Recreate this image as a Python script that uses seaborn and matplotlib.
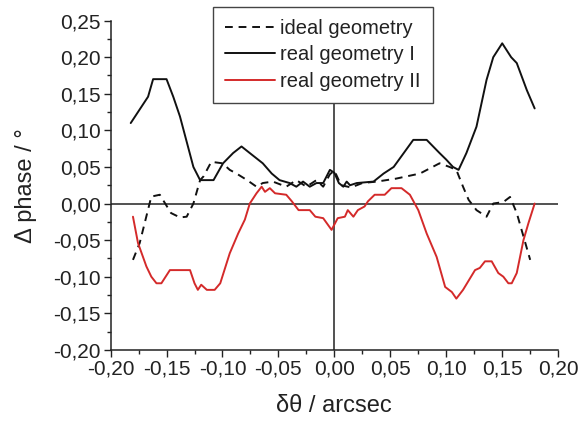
import seaborn as sns
import matplotlib.pyplot as plt
import matplotlib.ticker as mticker
import pandas as pd

# ideal geometry (dashed)
x_ideal = [-0.180, -0.174, -0.1636, -0.156, -0.146, -0.138, -0.132, -0.126, -0.120, -0.117,
           -0.110, -0.100, -0.0935, -0.0875, -0.078, -0.0696, -0.064, -0.055, -0.043, -0.034,
           -0.025, -0.016, -0.010, -0.004, 0.000, 0.006, 0.015, 0.025, 0.038, 0.055,
           0.0765, 0.094, 0.103, 0.109, 0.115, 0.120, 0.127, 0.136, 0.142, 0.151,
           0.157, 0.163, 0.169, 0.175]
y_ideal = [-0.077, -0.054, 0.0095, 0.012, -0.013, -0.019, -0.018, 0.000, 0.032, 0.037,
           0.057, 0.055, 0.046, 0.041, 0.032, 0.023, 0.028, 0.030, 0.023, 0.032,
           0.023, 0.032, 0.023, 0.040, 0.045, 0.025, 0.022, 0.028, 0.030, 0.034,
           0.041, 0.055, 0.050, 0.046, 0.023, 0.005, -0.009, -0.018, 0.000, 0.002,
           0.009, -0.013, -0.045, -0.077]

# real geometry I (solid black)
x_real1 = [-0.182, -0.1665, -0.162, -0.150, -0.144, -0.138, -0.126, -0.120, -0.108, -0.0995,
           -0.0905, -0.083, -0.0756, -0.064, -0.056, -0.049, -0.040, -0.034, -0.028, -0.022,
           -0.016, -0.010, -0.004, 0.000, 0.004, 0.008, 0.011, 0.014, 0.020, 0.035,
           0.044, 0.053, 0.062, 0.0705, 0.0825, 0.094, 0.100, 0.106, 0.111, 0.118,
           0.127, 0.136, 0.142, 0.150, 0.158, 0.163, 0.172, 0.179]
y_real1 = [0.110, 0.146, 0.170, 0.170, 0.146, 0.119, 0.050, 0.032, 0.032, 0.055,
           0.069, 0.078, 0.069, 0.055, 0.041, 0.032, 0.028, 0.023, 0.030, 0.023,
           0.028, 0.028, 0.046, 0.042, 0.028, 0.023, 0.030, 0.025, 0.028, 0.030,
           0.041, 0.050, 0.069, 0.087, 0.087, 0.069, 0.060, 0.050, 0.046, 0.069,
           0.105, 0.169, 0.200, 0.219, 0.200, 0.192, 0.155, 0.130]

# real geometry II (red)
x_real2 = [-0.180, -0.1755, -0.168, -0.1636, -0.159, -0.1546, -0.147, -0.129, -0.125, -0.122,
           -0.119, -0.114, -0.107, -0.102, -0.0935, -0.086, -0.080, -0.0756, -0.0696, -0.065,
           -0.062, -0.0577, -0.053, -0.043, -0.038, -0.032, -0.022, -0.017, -0.010, -0.0025,
           0.003, 0.0094, 0.012, 0.017, 0.021, 0.027, 0.030, 0.036, 0.045, 0.051,
           0.060, 0.0675, 0.075, 0.0825, 0.0914, 0.099, 0.105, 0.109, 0.115, 0.1257,
           0.130, 0.1346, 0.1406, 0.1465, 0.151, 0.1555, 0.1585, 0.163, 0.169, 0.1734,
           0.179]
y_real2 = [-0.018, -0.054, -0.086, -0.100, -0.109, -0.109, -0.091, -0.091, -0.109, -0.118,
           -0.111, -0.118, -0.118, -0.109, -0.068, -0.041, -0.022, 0.000, 0.014, 0.023,
           0.016, 0.021, 0.014, 0.012, 0.003, -0.009, -0.009, -0.018, -0.020, -0.036,
           -0.020, -0.018, -0.009, -0.018, -0.009, -0.004, 0.003, 0.012, 0.012, 0.021,
           0.021, 0.012, -0.009, -0.041, -0.073, -0.114, -0.121, -0.130, -0.118, -0.091,
           -0.088, -0.079, -0.079, -0.095, -0.100, -0.109, -0.109, -0.095, -0.050, -0.027,
           0.000]

x_ticks = [-0.20, -0.15, -0.10, -0.05, 0.00, 0.05, 0.10, 0.15, 0.20]
y_ticks = [-0.20, -0.15, -0.10, -0.05, 0.00, 0.05, 0.10, 0.15, 0.20, 0.25]

sns.set_theme(style="ticks")
plt.rcParams['font.family'] = ['Liberation Sans', 'DejaVu Sans']
text_color = '#222222'

fig = plt.figure(figsize=(5.79, 4.21), dpi=100)
ax = fig.add_axes([0.191, 0.169, 0.773, 0.782])

ax.axhline(0, color='#222222', lw=1.1, zorder=1)
ax.axvline(0, color='#222222', lw=1.1, zorder=1)

sns.lineplot(x=x_ideal, y=y_ideal, ax=ax, color='#111111', lw=1.4, sort=False,
             estimator=None, label='ideal geometry')
ax.lines[-1].set_dashes([4, 3])
sns.lineplot(x=x_real1, y=y_real1, ax=ax, color='#111111', lw=1.4, sort=False,
             estimator=None, label='real geometry I')
sns.lineplot(x=x_real2, y=y_real2, ax=ax, color='#d42a2a', lw=1.4, sort=False,
             estimator=None, label='real geometry II')

ax.set_xlim(-0.20, 0.20)
ax.set_ylim(-0.20, 0.25)
ax.set_xticks(x_ticks)
ax.set_yticks(y_ticks)
fmt = mticker.FuncFormatter(lambda v, p: f"{v:.2f}".replace('.', ','))
ax.xaxis.set_major_formatter(fmt)
ax.yaxis.set_major_formatter(fmt)
ax.xaxis.set_minor_locator(mticker.AutoMinorLocator(2))
ax.yaxis.set_minor_locator(mticker.AutoMinorLocator(2))
ax.tick_params(which='major', length=5, width=1, color='#222222', labelsize=15,
               labelcolor=text_color, pad=2)
ax.tick_params(which='minor', length=3, width=1, color='#222222')
sns.despine(ax=ax)
for s in ['left', 'bottom']:
    ax.spines[s].set_color('#222222')
    ax.spines[s].set_linewidth(1.1)

ax.set_xlabel('δθ / arcsec', fontsize=17, color=text_color, labelpad=12)
ax.set_ylabel('Δ phase / °', fontsize=17, color=text_color, labelpad=12)

leg = ax.legend(loc='upper left', bbox_to_anchor=(213 / 579, 1 - 7 / 421),
                bbox_transform=fig.transFigure, borderaxespad=0, fontsize=14.5,
                handlelength=2.5, labelspacing=0.36, handletextpad=0.25,
                borderpad=0.6, fancybox=False, framealpha=1)
leg.get_frame().set_edgecolor('#444444')
leg.get_frame().set_linewidth(1)
for t in leg.get_texts():
    t.set_color(text_color)

fig.savefig('out.png', dpi=100)
